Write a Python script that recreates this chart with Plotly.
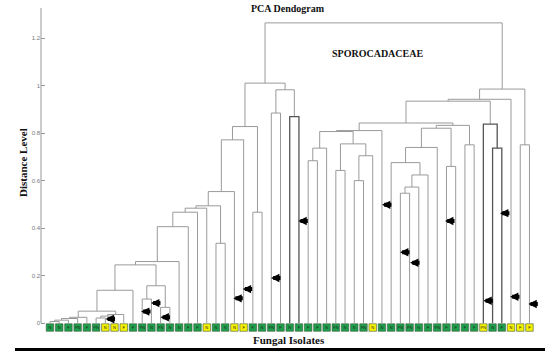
import plotly.graph_objects as go

# ---------------- data ----------------
leaf_labels = ["N", "N", "F", "PN", "F", "PN", "N", "N", "F", "F",
               "PN", "N", "PN", "N", "N", "F", "F", "N", "N", "N",
               "N", "F", "F", "N", "PN", "F", "N", "F", "F", "F",
               "N", "PN", "N", "N", "PN", "N", "N", "N", "PN", "PN",
               "N", "F", "PN", "F", "F", "F", "F", "PN", "N", "F",
               "N", "F", "F"]
# group: g = green box, y = yellow box
leaf_groups = ["g", "g", "g", "g", "g", "g", "y", "y", "y", "g",
               "g", "g", "g", "g", "g", "g", "g", "y", "g", "g",
               "y", "y", "g", "g", "g", "g", "g", "g", "g", "g",
               "g", "g", "g", "g", "g", "y", "g", "g", "g", "g",
               "g", "g", "g", "g", "g", "g", "g", "y", "g", "g",
               "y", "y", "y"]

# linkage: merge k creates node "m{k+1}" from left / right child at height
merge_left = [0, "m1", "m2", "m3", 5, "m5", "m6", "m4", "m8", 10,
              12, "m10", "m9", "m13", "m14", "m15", "m16", 18, "m17", "m19",
              "m20", 22, "m21", 24, 26, "m24", "m23", 28, "m28", 31,
              33, "m31", "m30", "m29", "m34", 38, "m36", "m37", 37, "m39",
              43, "m40", 45, "m42", "m35", 48, 47, "m45", "m48", 51,
              "m49", "m27"]
merge_right = [1, 2, 3, 4, 6, 7, 8, "m7", 9, 11,
               13, "m11", "m12", 14, 15, 16, 17, 19, "m18", 20,
               21, 23, "m22", 25, 27, "m25", "m26", 29, 30, 32,
               34, 35, "m32", "m33", 36, 39, 40, 41, "m38", 42,
               44, "m41", 46, "m43", "m44", 49, "m46", "m47", 50, 52,
               "m50", "m51"]
merge_height = [0.006, 0.012, 0.019, 0.024, 0.021, 0.029, 0.036, 0.050, 0.138, 0.101,
                0.066, 0.157, 0.245, 0.259, 0.406, 0.467, 0.484, 0.336, 0.494, 0.554,
                0.772, 0.467, 0.828, 0.885, 0.870, 0.983, 1.011, 0.684, 0.737, 0.643,
                0.600, 0.705, 0.755, 0.807, 0.811, 0.547, 0.573, 0.624, 0.676, 0.740,
                0.660, 0.821, 0.751, 0.833, 0.843, 0.737, 0.838, 0.935, 0.943, 0.751,
                0.986, 1.265]
dark_merges = ["m25", "m46", "m47"]

# arrow markers (tip position: leaf-axis position, distance level)
arrow_x = [6.02, 9.87, 10.95, 11.98, 19.88, 20.9, 23.97, 26.93,
           36.0, 37.96, 39.05, 42.84, 47.0, 48.8, 49.89, 51.88]
arrow_y = [0.017, 0.048, 0.084, 0.024, 0.104, 0.143, 0.19, 0.43,
           0.498, 0.298, 0.254, 0.43, 0.094, 0.463, 0.111, 0.08]

y_ticks = [0, 0.2, 0.4, 0.6, 0.8, 1.0, 1.2]
y_ticktext = ["0", "0.2", "0.4", "0.6", "0.8", "1", "1.2"]
y_top = 1.3277
y_bottom = -0.0421
leaf_box_y = -0.019

# ---------------- build dendrogram paths ----------------
pos = {i: float(i) for i in range(len(leaf_labels))}
hgt = {i: 0.0 for i in range(len(leaf_labels))}
lx, ly, dx, dy = [], [], [], []
for k, (a, b, h) in enumerate(zip(merge_left, merge_right, merge_height)):
    name = "m%d" % (k + 1)
    xs = [pos[a], pos[a], pos[b], pos[b], None]
    ys = [hgt[a], h, h, hgt[b], None]
    if name in dark_merges:
        dx += xs
        dy += ys
    else:
        lx += xs
        ly += ys
    pos[name] = (pos[a] + pos[b]) / 2
    hgt[name] = h

fig = go.Figure()
fig.add_trace(go.Scatter(x=lx, y=ly, mode="lines",
                         line=dict(color="#9a9a9a", width=1), hoverinfo="skip"))
fig.add_trace(go.Scatter(x=dx, y=dy, mode="lines",
                         line=dict(color="#555555", width=1.3), hoverinfo="skip"))

col_map = {"g": "#1f9e4c", "y": "#f7f000"}
fig.add_trace(go.Scatter(
    x=list(range(len(leaf_labels))), y=[leaf_box_y] * len(leaf_labels),
    mode="markers+text", text=leaf_labels, textposition="middle center",
    textfont=dict(size=4, color="#222222", family="Arial"),
    marker=dict(symbol="square", size=7.5,
                color=[col_map[g] for g in leaf_groups],
                line=dict(color="#3a5a3a", width=0.6)),
    cliponaxis=False, hoverinfo="skip"))

annotations = []
for ax_, ay_ in zip(arrow_x, arrow_y):
    annotations.append(dict(x=ax_, y=ay_, xref="x", yref="y", text="",
                            showarrow=True, ax=11, ay=0, arrowhead=2,
                            arrowsize=0.42, arrowwidth=4, arrowcolor="black",
                            standoff=0, startstandoff=0))

H = 325.0  # plot area height in px (top at 8)
def py(p):
    return (333 - p) / H
def px(p):
    return (p - 41) / 498

serif = "Liberation Serif, DejaVu Serif, serif"
annotations += [
    dict(text="<b>PCA Dendogram</b>", x=px(288), y=py(8.5),
         xref="paper", yref="paper", showarrow=False, xanchor="center", yanchor="middle",
         font=dict(family=serif, size=10, color="#111")),
    dict(text="<b>SPOROCADACEAE</b>", x=px(377), y=py(53.5),
         xref="paper", yref="paper", showarrow=False, xanchor="center", yanchor="middle",
         font=dict(family=serif, size=10, color="#111")),
    dict(text="<b>Distance Level</b>", x=px(22.5), y=py(162.5),
         xref="paper", yref="paper", showarrow=False, xanchor="center", yanchor="middle",
         textangle=-90, font=dict(family=serif, size=11, color="#111")),
    dict(text="<b>Fungal Isolates</b>", x=px(289), y=py(339.5),
         xref="paper", yref="paper", showarrow=False, xanchor="center", yanchor="middle",
         font=dict(family=serif, size=11, color="#111")),
]

fig.update_layout(
    width=550, height=356, autosize=False,
    margin=dict(l=41, r=11, t=8, b=23, pad=0),
    paper_bgcolor="white", plot_bgcolor="white",
    showlegend=False,
    annotations=annotations,
    shapes=[
        dict(type="line", xref="paper", yref="paper",
             x0=px(15), x1=px(545), y0=py(349.5), y1=py(349.5),
             line=dict(color="black", width=3)),
        dict(type="line", xref="paper", yref="y",
             x0=0, x1=0, y0=0, y1=y_top,
             line=dict(color="#999999", width=1)),
    ],
    xaxis=dict(range=[-0.976, 53.035], visible=False, showgrid=False, zeroline=False),
    yaxis=dict(range=[y_bottom, y_top], showgrid=False, zeroline=False,
               showline=False,
               tickvals=y_ticks, ticktext=y_ticktext, ticks="inside",
               ticklen=4, tickcolor="#999999",
               tickfont=dict(size=6, color="#777777", family="Arial")),
)

fig.write_html("out.html", config={"displayModeBar": False},
               post_script="document.body.style.margin='0px';")
